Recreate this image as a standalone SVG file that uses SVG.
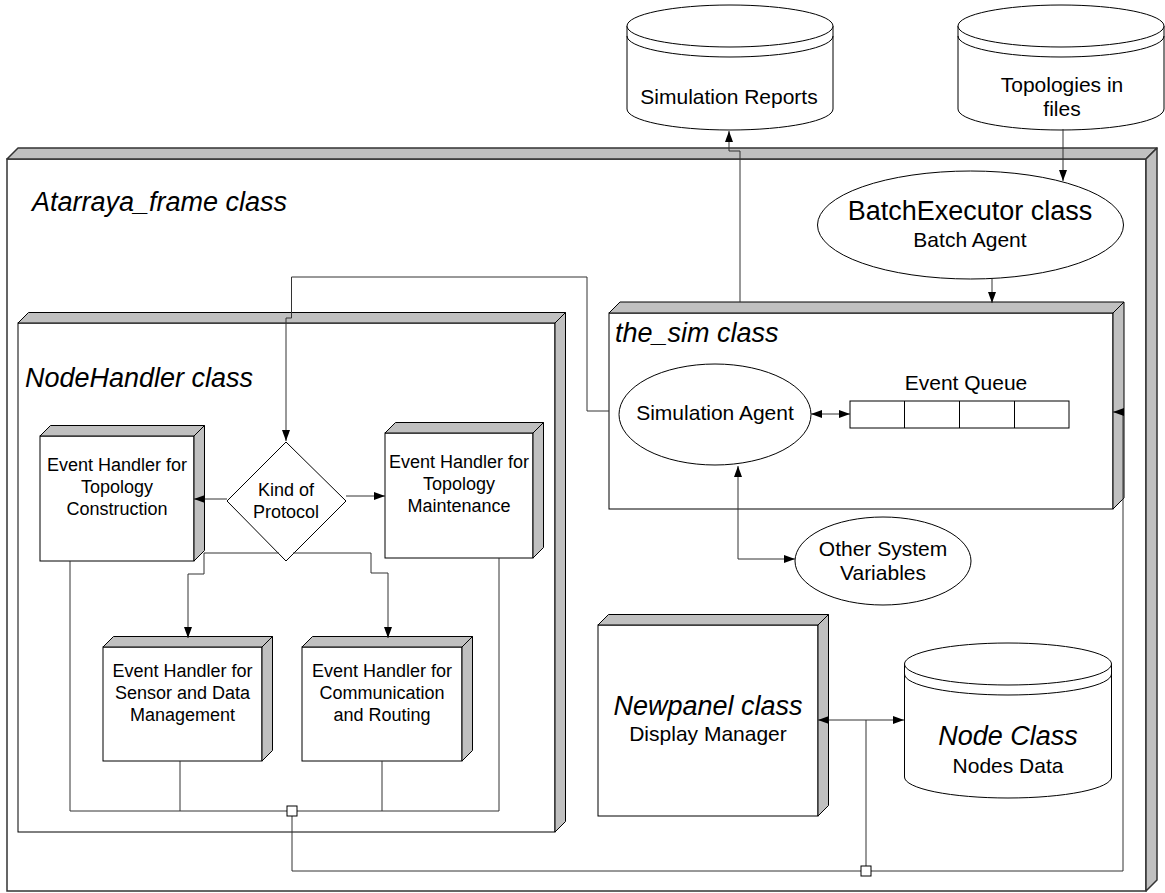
<svg xmlns="http://www.w3.org/2000/svg" width="1165" height="893" viewBox="0 0 1165 893">
<style>
.front{fill:#fff;stroke:#000;stroke-width:1}
.face{fill:#c0c0c0;stroke:#000;stroke-width:1;stroke-linejoin:round}
.frame{fill:#fff;stroke:#333;stroke-width:1.5}
.frameface{fill:#c0c0c0;stroke:#333;stroke-width:1.5;stroke-linejoin:round}
.shape{fill:#fff;stroke:#000;stroke-width:1}
.line{fill:none;stroke:#333;stroke-width:1}
.t18{font-family:"Liberation Sans",Arial,sans-serif;font-size:18px;fill:#000;text-anchor:middle}
.t21{font-family:"Liberation Sans",Arial,sans-serif;font-size:21px;fill:#000;text-anchor:middle}
.t27{font-family:"Liberation Sans",Arial,sans-serif;font-size:27px;fill:#000;text-anchor:middle}
.ti{font-family:"Liberation Sans",Arial,sans-serif;font-size:27px;font-style:italic;fill:#000}
</style>
<defs>
<marker id="arr" markerWidth="11" markerHeight="8" refX="11" refY="4" orient="auto-start-reverse" markerUnits="userSpaceOnUse"><path d="M0,0 L11,4 L0,8 z" fill="#000"/></marker>
</defs>

<!-- Outer frame -->
<g id="atarraya_frame">
<rect class="frame" x="7" y="159" width="1139" height="732"/>
<polygon class="frameface" points="7,159 18,148 1157,148 1146,159"/>
<polygon class="frameface" points="1146,159 1157,148 1157,880 1146,891"/>
<text class="ti" x="32" y="211">Atarraya_frame class</text>
</g>

<!-- Cylinders -->
<g id="simulation_reports">
<path class="shape" d="M627,26 V109 A103,21 0 0 0 833,109 V26 Z"/>
<ellipse class="shape" cx="730" cy="26" rx="103" ry="21"/>
<path class="line" style="stroke:#000" d="M627,36 A103,21 0 0 0 833,36"/>
<text class="t21" x="729" y="104">Simulation Reports</text>
</g>

<g id="topologies_files">
<path class="shape" d="M958,26 V109 A103,21 0 0 0 1164,109 V26 Z"/>
<ellipse class="shape" cx="1061" cy="26" rx="103" ry="21"/>
<path class="line" style="stroke:#000" d="M958,36 A103,21 0 0 0 1164,36"/>
<text class="t21" x="1062" y="92">Topologies in</text>
<text class="t21" x="1062" y="116">files</text>
</g>

<g id="batch_executor">
<ellipse class="shape" cx="970.5" cy="225" rx="153" ry="54"/>
<text class="t27" x="970" y="220">BatchExecutor class</text>
<text class="t21" x="970" y="247">Batch Agent</text>
</g>

<!-- NodeHandler frame -->
<g id="nodehandler">
<rect class="front" x="18" y="323" width="537" height="509"/>
<polygon class="face" points="18,323 28.5,312.5 565.5,312.5 555,323"/>
<polygon class="face" points="555,323 565.5,312.5 565.5,821.5 555,832"/>
<text class="ti" x="25" y="387">NodeHandler class</text>
</g>

<g id="eh_construction">
<rect class="front" x="40" y="436" width="154" height="125"/>
<polygon class="face" points="40,436 50.5,425.5 204.5,425.5 194,436"/>
<polygon class="face" points="194,436 204.5,425.5 204.5,550.5 194,561"/>
<text class="t18" x="117" y="471">Event Handler for</text>
<text class="t18" x="117" y="493">Topology</text>
<text class="t18" x="117" y="515">Construction</text>
</g>

<g id="eh_maintenance">
<rect class="front" x="385" y="433" width="148" height="125"/>
<polygon class="face" points="385,433 395.5,422.5 543.5,422.5 533,433"/>
<polygon class="face" points="533,433 543.5,422.5 543.5,547.5 533,558"/>
<text class="t18" x="459" y="468">Event Handler for</text>
<text class="t18" x="459" y="490">Topology</text>
<text class="t18" x="459" y="512">Maintenance</text>
</g>

<g id="eh_sensor">
<rect class="front" x="103" y="647" width="159" height="114"/>
<polygon class="face" points="103,647 113.5,636.5 272.5,636.5 262,647"/>
<polygon class="face" points="262,647 272.5,636.5 272.5,750.5 262,761"/>
<text class="t18" x="182.5" y="677">Event Handler for</text>
<text class="t18" x="182.5" y="699">Sensor and Data</text>
<text class="t18" x="182.5" y="721">Management</text>
</g>

<g id="eh_communication">
<rect class="front" x="302" y="647" width="160" height="114"/>
<polygon class="face" points="302,647 312.5,636.5 472.5,636.5 462,647"/>
<polygon class="face" points="462,647 472.5,636.5 472.5,750.5 462,761"/>
<text class="t18" x="382" y="677">Event Handler for</text>
<text class="t18" x="382" y="699">Communication</text>
<text class="t18" x="382" y="721">and Routing</text>
</g>

<!-- the_sim -->
<g id="the_sim">
<rect class="front" x="609" y="313" width="504" height="196"/>
<polygon class="face" points="609,313 620,302 1124,302 1113,313"/>
<polygon class="face" points="1113,313 1124,302 1124,498 1113,509"/>
<text class="ti" x="615" y="342">the_sim class</text>
</g>

<g id="simulation_agent">
<ellipse class="shape" cx="715" cy="414.5" rx="96" ry="50.5"/>
<text class="t21" x="715" y="420">Simulation Agent</text>
</g>

<g id="event_queue">
<rect class="shape" x="850" y="401" width="219" height="27"/>
<path class="line" style="stroke:#000" d="M904.5,401 V428 M959.5,401 V428 M1014.5,401 V428"/>
<text class="t21" x="966" y="390">Event Queue</text>
</g>

<g id="other_system_variables">
<ellipse class="shape" cx="883" cy="561" rx="88" ry="44"/>
<text class="t21" x="883" y="556">Other System</text>
<text class="t21" x="883" y="580">Variables</text>
</g>

<g id="newpanel">
<rect class="front" x="598" y="625" width="220" height="191"/>
<polygon class="face" points="598,625 608.5,614.5 828.5,614.5 818,625"/>
<polygon class="face" points="818,625 828.5,614.5 828.5,805.5 818,816"/>
<text class="t27" x="708" y="715" font-style="italic">Newpanel class</text>
<text class="t21" x="708" y="741">Display Manager</text>
</g>

<g id="node_class">
<path class="shape" d="M904.5,664 V777 A103.5,21 0 0 0 1111.5,777 V664 Z"/>
<ellipse class="shape" cx="1008" cy="664" rx="103.5" ry="21"/>
<path class="line" style="stroke:#000" d="M904.5,674 A103.5,21 0 0 0 1111.5,674"/>
<text class="t27" x="1008" y="745" font-style="italic">Node Class</text>
<text class="t21" x="1008" y="773">Nodes Data</text>
</g>

<g id="kind_of_protocol">
<polygon class="shape" points="286,442 346,501 286,561 227,501"/>
<text class="t18" x="286" y="496">Kind of</text>
<text class="t18" x="286" y="518">Protocol</text>
</g>

<!-- Connectors -->
<g id="connectors">
<path class="line" marker-end="url(#arr)" d="M740,302 V151 H729 V131"/>
<path class="line" marker-end="url(#arr)" d="M1063,129 V181"/>
<path class="line" marker-end="url(#arr)" d="M992,279 V303"/>
<path class="line" marker-end="url(#arr)" d="M609,411 H587 V277 H291.5 V318 H286 V441"/>
<path class="line" marker-end="url(#arr)" d="M227,499 H194"/>
<path class="line" marker-end="url(#arr)" d="M346,496 H385"/>
<path class="line" d="M204,553 H279 M293,553 H371"/>
<path class="line" marker-end="url(#arr)" d="M204,553 V574 H188 V638"/>
<path class="line" marker-end="url(#arr)" d="M371,553 V573 H388 V638"/>
<path class="line" d="M70,561 V811 H499 V558"/>
<path class="line" d="M180,761 V811 M382,761 V811"/>
<path class="line" marker-start="url(#arr)" marker-end="url(#arr)" d="M811,414 H850"/>
<path class="line" marker-start="url(#arr)" marker-end="url(#arr)" d="M738,466 V559 H795"/>
<path class="line" marker-end="url(#arr)" d="M292,816 V871 H1123 V412 H1113"/>
<path class="line" marker-start="url(#arr)" marker-end="url(#arr)" d="M818,720 H904"/>
<path class="line" d="M866,720 V866"/>
<rect class="shape" x="287" y="806" width="10" height="10"/>
<rect class="shape" x="861" y="866" width="10" height="10"/>
</g>
</svg>
